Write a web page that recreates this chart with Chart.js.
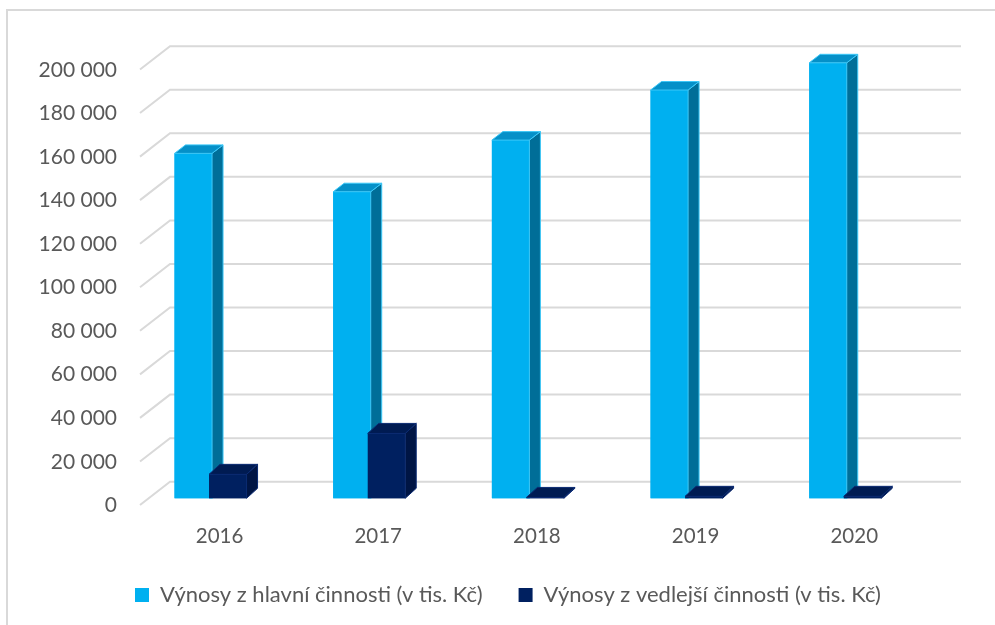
<!DOCTYPE html>
<html><head><meta charset="utf-8">
<script src="https://cdn.jsdelivr.net/npm/chart.js@4.4.1/dist/chart.umd.min.js"></script>
<style>html,body{margin:0;padding:0;background:#fff;overflow:hidden}#wrap{width:995px;height:625px;position:relative}</style>
</head><body><div id="wrap"><canvas id="c" width="995" height="625"></canvas></div>
<script>
const years = ['2016', '2017', '2018', '2019', '2020'];
const mainIncome = [158400, 140800, 164500, 187500, 200000];
const sideIncome = [11000, 29800, 400, 900, 900];
const seriesNames = ['Výnosy z hlavní činnosti (v tis. Kč)', 'Výnosy z vedlejší činnosti (v tis. Kč)'];
const yMin = 0, yMax = 200000, yStep = 20000;

const fmt = v => String(v).replace(/\B(?=(\d{3})+(?!\d))/g, ' ');

const frame = {
  id: 'frame',
  beforeDraw(chart) {
    const ctx = chart.ctx;
    ctx.save();
    ctx.strokeStyle = '#d9d9d9';
    ctx.lineWidth = 2;
    ctx.strokeRect(7, 10, 1100, 800);
    ctx.restore();
  }
};

const wall = {
  id: 'wall',
  beforeDatasetsDraw(chart) {
    const {ctx, chartArea} = chart;
    const y = chart.scales.y;
    ctx.save();
    ctx.strokeStyle = '#d9d9d9';
    ctx.lineWidth = 2;
    y.ticks.forEach(t => {
      const py = y.getPixelForValue(t.value);
      ctx.beginPath();
      ctx.moveTo(chartArea.left + 8.8, py + 6.7);
      ctx.lineTo(chartArea.left + 38.8, py - 16.6);
      ctx.lineTo(chartArea.right + 36.4, py - 16.6);
      ctx.stroke();
    });
    ctx.restore();
  }
};

// Redraw the bars in series order (first series behind) and add the 3D top and side faces
const depth = {
  id: 'depth',
  afterDatasetsDraw(chart) {
    const ctx = chart.ctx;
    chart.data.datasets.forEach((ds, i) => {
      const meta = chart.getDatasetMeta(i);
      const dx = ds.depthX, dy = ds.depthY;
      meta.data.forEach(bar => {
        bar.draw(ctx);
        const {x, y, base, width} = bar.getProps(['x', 'y', 'base', 'width'], true);
        const l = x - width / 2, r = x + width / 2;
        ctx.save();
        ctx.lineWidth = 1;
        ctx.strokeStyle = ds.edgeColor;
        ctx.lineJoin = 'round';
        ctx.fillStyle = ds.sideColor;
        ctx.beginPath();
        ctx.moveTo(r, y); ctx.lineTo(r + dx, y - dy); ctx.lineTo(r + dx, base - dy); ctx.lineTo(r, base);
        ctx.closePath(); ctx.fill(); ctx.stroke();
        ctx.fillStyle = ds.topColor;
        ctx.beginPath();
        ctx.moveTo(l, y); ctx.lineTo(l + dx, y - dy); ctx.lineTo(r + dx, y - dy); ctx.lineTo(r, y);
        ctx.closePath(); ctx.fill(); ctx.stroke();
        ctx.restore();
      });
    });
  }
};

function build() {
  const FONT = 'Lato';
  Chart.defaults.font.family = FONT;
  Chart.defaults.color = '#595959';
  const yFontSize = 21;
  const mctx = document.createElement('canvas').getContext('2d');
  mctx.font = yFontSize + 'px ' + FONT;
  let widest = 0;
  for (let v = yMin; v <= yMax; v += yStep) widest = Math.max(widest, mctx.measureText(fmt(v)).width);

  new Chart(document.getElementById('c'), {
    type: 'bar',
    data: {
      labels: years,
      datasets: [
        {label: seriesNames[0], data: mainIncome, backgroundColor: '#00B0F0', borderWidth: 0,
         sideColor: '#006E98', topColor: '#0590C8', edgeColor: '#3CC8F8', depthX: 11, depthY: 8.5},
        {label: seriesNames[1], data: sideIncome, backgroundColor: '#002060', borderWidth: 0,
         sideColor: '#001544', topColor: '#001B52', edgeColor: '#0A2A72', depthX: 11, depthY: 10}
      ]
    },
    options: {
      responsive: false,
      devicePixelRatio: 1,
      animation: false,
      layout: {padding: {left: 99, right: 70.4, top: 62.8, bottom: 9}},
      datasets: {bar: {categoryPercentage: 0.435, barPercentage: 1.087, clip: false}},
      scales: {
        x: {
          grid: {display: false, drawTicks: false},
          border: {display: false},
          ticks: {font: {size: 20.5}, mirror: true, padding: -50, labelOffset: 9, color: '#595959'},
          afterFit(s) { s.height = 49.7; }
        },
        y: {
          min: yMin, max: yMax,
          grid: {display: false, drawTicks: false},
          border: {display: false},
          ticks: {stepSize: yStep, font: {size: yFontSize}, mirror: true, crossAlign: 'far',
                  padding: -14.2 - widest, labelOffset: 7, color: '#595959',
                  callback: v => fmt(v)},
          afterFit(s) { s.width = 32.2; }
        }
      },
      plugins: {
        legend: {
          position: 'bottom', align: 'start',
          labels: {boxWidth: 14, boxHeight: 14, padding: 36, font: {size: 22}, color: '#595959'}
        },
        tooltip: {enabled: false}
      }
    },
    plugins: [frame, wall, depth]
  });
}
if (document.fonts && document.fonts.load) {
  document.fonts.load('21px Lato').then(build, build);
} else { build(); }
</script>
</body></html>
